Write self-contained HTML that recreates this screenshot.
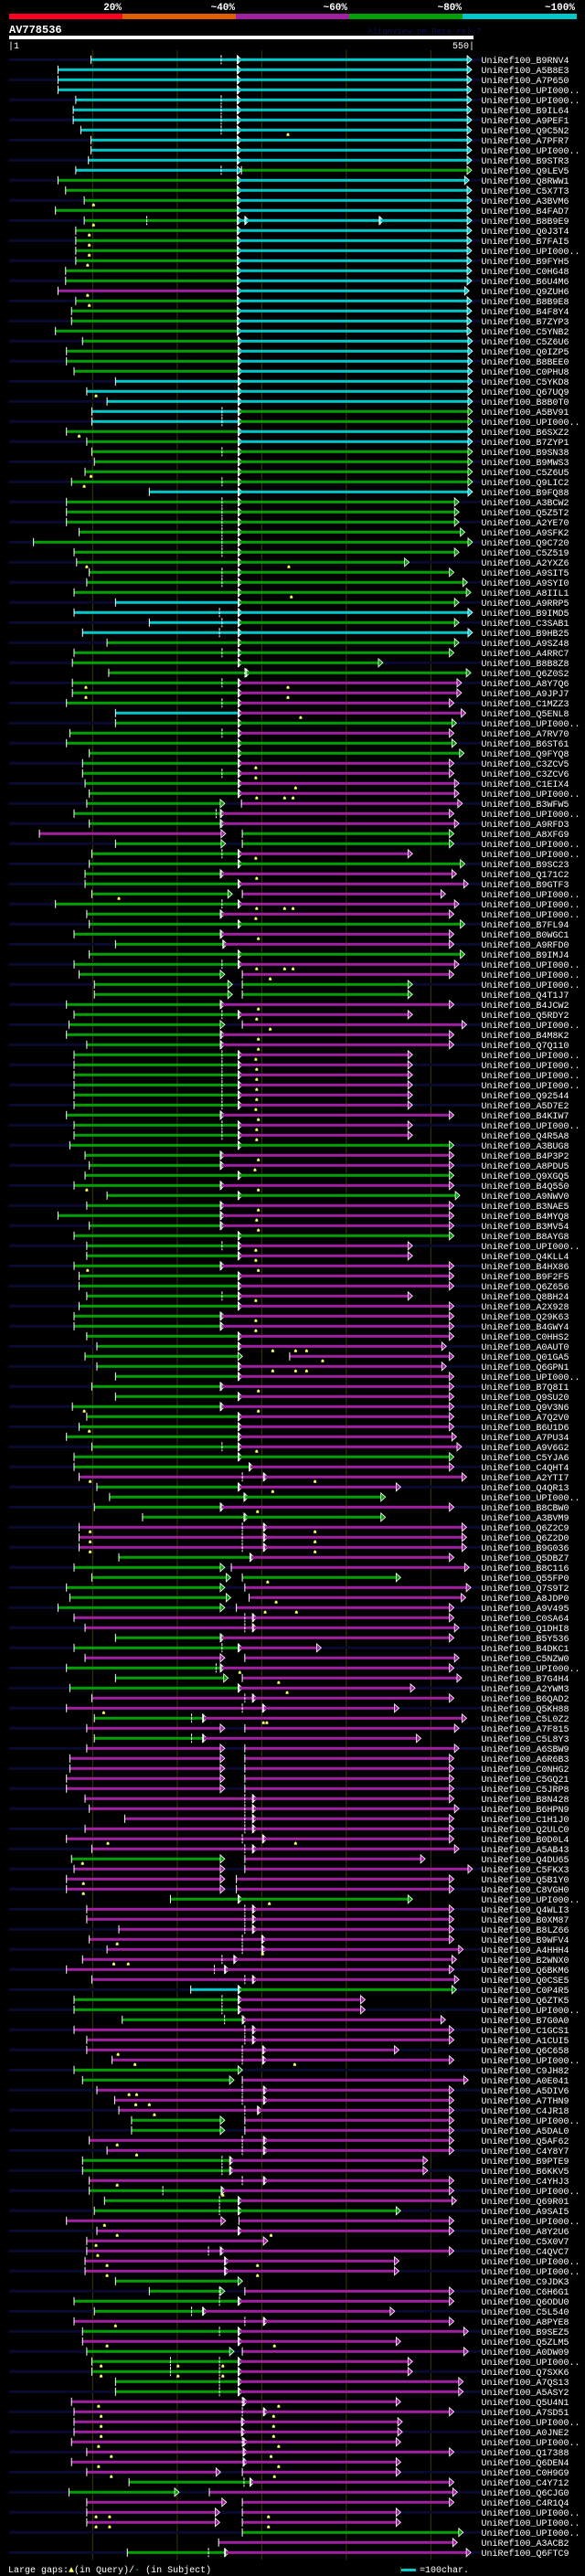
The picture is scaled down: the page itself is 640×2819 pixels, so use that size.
<!DOCTYPE html>
<html><head><meta charset="utf-8">
<style>
html,body{margin:0;padding:0;background:#000;}
svg{display:block;}
text{font-family:"Liberation Mono",monospace;}
</style></head>
<body>
<svg id="chart" width="640" height="2819" viewBox="0 0 640 2819" xmlns="http://www.w3.org/2000/svg">
<rect x="0" y="0" width="640" height="2819" fill="#000"/>
<g>
<text x="133" y="11" text-anchor="end" fill="#fff" font-size="11" font-weight="bold">20%</text>
<text x="257" y="11" text-anchor="end" fill="#fff" font-size="11" font-weight="bold">~40%</text>
<text x="380" y="11" text-anchor="end" fill="#fff" font-size="11" font-weight="bold">~60%</text>
<text x="505" y="11" text-anchor="end" fill="#fff" font-size="11" font-weight="bold">~80%</text>
<text x="629" y="11" text-anchor="end" fill="#fff" font-size="11" font-weight="bold">~100%</text>
<rect x="10" y="15" width="124" height="6" fill="#ff0020"/>
<rect x="134" y="15" width="124" height="6" fill="#e06000"/>
<rect x="258" y="15" width="124" height="6" fill="#a020a0"/>
<rect x="382" y="15" width="124" height="6" fill="#00a000"/>
<rect x="506" y="15" width="125" height="6" fill="#00c8c8"/>
</g>
<text x="10" y="36" fill="#fff" font-size="12" font-weight="bold">AV778536</text>
<text x="402" y="37" fill="#101050" font-size="9">AlignView.pm Beta rel.7</text>
<rect x="10" y="39" width="508" height="4" fill="#fff"/>
<text x="9" y="53" fill="#fff" font-size="10">|1</text>
<text x="519" y="53" fill="#fff" font-size="10" text-anchor="end">550|</text>
<g id="grid"></g>
<g id="rows"></g>
<g>
<text x="9" y="2815" fill="#fff" font-size="10">Large gaps:<tspan fill="#ffff60">▲</tspan>(in Query)/<tspan fill="#00c8c8">-</tspan> (in Subject)</text>
<rect x="438" y="2809" width="1" height="7" fill="#444400"/>
<rect x="439" y="2811" width="16" height="3" fill="#00c8c8"/>
<text x="459" y="2815" fill="#fff" font-size="10">=100char.</text>
</g>
</svg>
<script>
const labels = ["B9RNV4","A5B8E3","A7P650","UPI","UPI","B9IL64","A9PEF1","Q9C5N2","A7PFR7","UPI","B9STR3","Q9LEV5","Q8RWW1","C5X7T3","A3BVM6","B4FAD7","B8B9E9","Q0J3T4","B7FAI5","UPI","B9FYH5","C0HG48","B6U4M6","Q9ZUH6","B8B9E8","B4F8Y4","B7ZYP3","C5YNB2",
"C5Z6U6","Q0IZP5","B8BEE0","C0PHU8","C5YKD8","Q67UQ9","B8B0T0","A5BV91","UPI","B6SXZ2","B7ZYP1","B9SN38","B9MWS3","C5Z6U5","Q9LIC2","B9FQ88","A3BCW2","Q5Z5T2","A2YE70","A9SFK2","Q9C720","C5Z519","A2YXZ6","A9SIT5",
"A9SYI0","A8IIL1","A9RRP5","B9IMD5","C3SAB1","B9HB25","A9SZ48","A4RRC7","B8B8Z8","Q6Z0S2","A8Y7Q6","A9JPJ7","C1MZZ3","Q5ENL8","UPI","A7RV70","B6ST61","Q9FYQ8","C3ZCV5","C3ZCV6","C1EIX4","UPI","B3WFW5","UPI",
"A9RFD3","A8XFG9","UPI","UPI","B9SC23","Q171C2","B9GTF3","UPI","UPI","UPI","B7FL94","B0WGC1","A9RFD0","B9IMJ4","UPI","UPI","UPI","Q4T1J7","B4JCW2","Q5RDY2","UPI","B4M8K2","Q7Q110","UPI",
"UPI","UPI","UPI","Q92544","A5D7E2","B4KIW7","UPI","Q4R5A8","A3BUG8","B4P3P2","A8PDU5","Q9XGQ5","B4Q550","A9NWV0","B3NAE5","B4MYQ8","B3MV54","B8AYG8","UPI","Q4KLL4","B4HX86","B9F2F5","Q6Z656","Q8BH24",
"A2X928","Q29K63","B4GWY4","C0HHS2","A0AUT0","Q01GA5","Q6GPN1","UPI","B7Q8I1","Q9SU20","Q9V3N6","A7Q2V0","B6U1D6","A7PU34","A9V6G2","C5YJA6","C4QHT4","A2YTI7","Q4QR13","UPI","B8CBW0","A3BVM9","Q6Z2C9","Q6Z2D0",
"B9G036","Q5DBZ7","B8C116","Q55FP0","Q7S9T2","A8JDP0","A9V495","C0SA64","Q1DHI8","B5Y536","B4DKC1","C5NZW0","UPI","B7G4H4","A2YWM3","B6QAD2","Q5KH88","C5L0Z2","A7F815","C5L8Y3","A6SBW9","A6R6B3","C0NHG2","C5GQ21",
"C5JRP8","B8N428","B6HPN9","C1H1J0","Q2ULC0","B0D0L4","A5AB43","Q4DU65","C5FKX3","Q5B1Y0","C8VGH0","UPI","Q4WLI3","B0XM87","B8LZ66","B9WFV4","A4HHH4","B2WNX0","Q6BKM6","Q0CSE5","C0P4R5","Q6ZTK5","UPI","B7G0A0",
"C1GCS1","A1CUI5","Q6C658","UPI","C9JH82","A0E041","A5DIV6","A7THN9","C4JR18","UPI","A5DAL0","Q5AF62","C4Y8Y7","B9PTE9","B6KKV5","C4YHJ3","UPI","Q69R01","A9SAI5","UPI","A8Y2U6","C5X0V7","C4QVC7","UPI",
"UPI","C9JDK3","C6H6G1","Q6ODU0","C5L540","A8PYE8","B9SEZ5","Q5ZLM5","A0DW09","UPI","Q7SXK6","A7QS13","A5ASY2","Q5U4N1","A7SD51","UPI","A0JNE2","UPI","Q17388","Q6DEN4",
"C0H9G9","C4Y712","Q6CJG0","C4R1Q4","UPI","UPI","UPI","A3ACB2","Q6FTC9"];

const segments = ["c98-272 c272-544","c59-272 c272-544","c59-272 c272-544","c59-272 c272-544","c80-272 c272-544","c77-272 c272-544","c77-272 c272-544","c86-272 c272-544","c98-272 c272-544","c98-272 c272-544","c95-272 c272-544","c80-272 g276-544","g59-272 c272-541","g68-272 c272-544","g90-272 c272-544","g56-272 c272-544","g90-272 c272-281 c281-440 c440-544","g80-272 c272-544","g80-272 c272-544","g80-272 c272-544","g80-272 c272-544","g68-272 c272-544","g68-272 c272-544","m59-272 c272-541","g80-272 c272-544","g75-272 c272-544","g75-272 c272-544","g56-272 c272-544",
"g88-273 c273-545","g69-273 c273-545","g69-273 c273-545","g78-273 c273-545","c127-273 c273-545","c93-273 c273-545","c117-273 c273-545","c99-273 g273-545","c99-273 g273-545","g69-273 c273-545","g93-273 c273-545","g99-273 g273-545","g102-273 g273-545","g91-273 g273-545","g75-273 g273-545","c167-273 c273-545","g69-273 g273-529","g69-273 g273-529","g69-273 g273-529","g84-273 g273-536","g30-273 g273-545","g78-273 g273-529","g81-273 g273-470","g96-273 g273-523",
"g93-273 g273-539","g78-273 g273-543","c127-273 g273-529","c78-273 c273-545","c167-273 g273-529","c88-273 c273-545","g117-273 g273-529","g78-273 g273-523","g76-273 g273-439","g119-282 g282-543","g76-273 m273-532","g76-273 m273-532","g69-273 m273-523","c127-273 m273-537","g127-273 g273-526","g73-273 m273-523","g69-273 g273-526","g96-273 g273-535","g88-273 m273-523","g88-273 m273-523","g91-273 m273-529","g96-273 m273-529","g93-252 m276-533","g78-252 m252-523",
"g96-252 m252-529","m37-253 g277-523","g127-253 g277-523","g99-273 m273-474","g96-273 g273-536","g91-252 m252-526","g91-273 m273-540","g99-261 m277-513","g56-273 m273-529","g93-252 m252-523","g96-273 g273-536","g78-252 m252-523","g127-255 m255-523","g96-273 g273-536","g78-273 m273-529","g84-252 m277-523","g102-261 g277-474","g102-261 g277-474","g69-252 m252-523","g78-273 m273-474","g72-252 m277-538","g69-252 m252-523","g93-252 m252-523","g78-273 m273-474",
"g78-273 m273-474","g78-273 m273-474","g78-273 m273-474","g78-273 m273-474","g78-273 m273-474","g69-252 m252-523","g78-273 m273-474","g78-273 m273-474","g73-273 g273-523","g91-252 m252-523","g96-252 m252-523","g91-273 g273-523","g78-252 m252-523","g117-273 g273-530","g93-252 m252-523","g59-252 m252-523","g96-252 m252-523","g78-273 g273-523","g93-273 m273-474","g93-273 m273-474","g78-252 m252-523","g84-273 m273-523","g84-273 m273-523","g93-273 m273-474",
"g84-273 m273-523","g78-252 m252-523","g78-252 m252-523","g93-273 m273-523","g105-273 m273-514","g91-273 m333-523","g105-273 m273-514","g127-273 m273-523","g99-252 m252-523","g127-273 m273-523","g76-252 m252-523","g93-273 m273-523","g84-273 m273-523","g69-273 m273-526","g99-273 m273-532","g78-273 g273-523","g78-286 m286-523","m84-303 m303-538","g105-273 m273-460","g120-280 g280-442","g102-252 m252-523","g159-280 g280-442","m84-303 m303-538","m84-303 m303-538",
"m84-303 m303-538","g131-287 m287-523","g78-252 m264-541","g99-259 g277-460","g69-252 m280-543","g73-259 m285-537","g59-252 m270-523","m78-290 m290-523","m91-290 m290-529","g127-252 m252-523","g78-273 m273-366","m91-252 m280-529","g69-252 m252-523","g127-256 m277-532","g73-273 m273-477","m99-290 m290-523","m69-302 m302-458","g102-231 m231-538","m93-252 m280-529","g102-231 m231-484","m93-252 m280-529","m73-252 m280-523","m73-252 m280-523","m69-252 m280-523",
"m69-252 m280-523","m91-290 m290-523","m96-290 m290-529","m138-290 m290-523","m91-290 m290-523","m69-302 m302-523","m99-290 m290-529","g75-252 m280-489","m78-252 m280-545","m69-252 m270-523","m69-252 m270-523","g192-273 g273-474","m93-290 m290-523","m93-290 m290-523","m131-290 m290-523","m96-301 m301-523","m117-301 m301-534","m88-268 m268-526","m69-257 m257-523","m99-290 m290-529","c216-273 g273-526","g78-273 m273-418","g78-273 m273-418","g135-278 m278-513",
"m78-290 m290-523","m93-290 m290-523","m93-302 m302-458","m123-302 m302-523","g78-273","g88-263 m277-540","m105-303 m303-523","m126-303 m303-523","m131-296 m296-523","g146-252 m280-523","g146-252 m280-523","m96-303 m303-523","m117-303 m303-523","g88-263 m263-492","g88-263 m263-492","m96-303 m303-523","g96-253 m253-523","g114-273 m273-526","g102-273 g273-460","m69-253 m273-523","m105-273 m273-523","m93-303","m93-252 m252-523","m91-257 m257-458",
"m91-257 m257-458","g127-273","g167-252 m280-523","g78-273 m273-523","g102-231 m231-453","m78-303 m303-523","g88-273 m273-540","m88-273 m273-460","g93-263 m277-540","g99-273 m273-474","g99-273 m273-474","g127-273 m273-534","g127-273 m273-534","m75-279 m279-460","m78-303 m303-523","m78-277 m277-462","m78-277 m277-462","m75-279 m279-460","m93-279 m279-523","m75-279 m279-460",
"m93-247 m277-460","g143-287 m287-523","g72-198 m238-527","m93-254 m277-523","m93-246 m277-460","m93-246 m277-460","g277-534","m249-527","g141-257 m257-543"];

const dashTicks = ["252","","","","252","252","252","252","","","","252","","","","","164","","","","","","","","","","","",
"","","","","","","","253","253","","","253","","","253","","253","253","253","253","253","253","","253",
"253","","","250","253","250","","253","","280","253","","253","","","253","","","","253","","","","246",
"","","","253","","","","","253","","","","","","253","","","","","253","","","","253",
"253","253","253","253","253","","253","253","","","","","","","","","","","253","","","","","253",
"","","","","","","","","","","","","","","253","","","277","","","","","277","277",
"277","","","","","","","280","280","","253","","246","","","280","277","217","","217","","","","",
"","280","280","280","280","277","280","","","","","","280","280","280","277","277","253","244","280","","253","253","256",
"280","280","277","277","","","277","277","280","","","277","277","253","253","277","183","250","250","","","","237","",
"","","250","250","217","280","250","","","192 250","192 250","250","250","277","277","","","277","","",
"","279","","","","","","","237"];

const queryGaps = ["","","","","","","","331","","","","","","","101","","101","96","96","96","94","","","94","96","","","",
"","","","","","104","","","","84","","","","98","90","","","","","","","","93 332","",
"","335","","","","","","","","","92 331","92 331","","346","","","","","293","293","340","294 327 337","","",
"","","","293","","294","","131","294 327 337","293","","296","","","294 327 337","310","","","296","294","310","296","296","293",
"294","294","294","294","293","296","294","294","","296","292","","93 296","","296","294","296","","293","293","94 296","","","293",
"","293","293","","313 340 353","372","313 340 353","","296","","90 296","","96","","294","","","97 363","313","","295","","97 363","97 363",
"97 363","","","307","","317","304 341","","","","","","274","320","330","","113","302 306","","","","","","",
"","","","","","118 340","","88","","89","89","309","","","","129","301","125 142","","","","","","",
"","","130","150 339","","","143 152","151 167","173","","","129","152","","","129","254","","","114","129 311","104","106","117 295",
"117 295","","","","","127","","117 315","","110 201 254","110 201 254","","","107 320","110 314","110 314","110 314","107 320","122 311","107 320",
"122 315","","","","104 120 308","104 120 308","","",""];

const NS = "http://www.w3.org/2000/svg";
const X0 = 9.8, X1 = 517.6, MAXC = 550;
function xs(c){ return X0 + (c - 1) * (X1 - X0) / (MAXC - 1); }
function ys(i){ return 65.3 + i * 11; }
const COLORS = {c:"#00c8c8", g:"#00a000", m:"#a020a0"};
function mk(tag, attrs, parent){
  const el = document.createElementNS(NS, tag);
  for (const k in attrs) el.setAttribute(k, attrs[k]);
  parent.appendChild(el);
  return el;
}
const grid = document.getElementById("grid");
const rowsG = document.getElementById("rows");
const nRows = labels.length;
[100,200,300,400,500].forEach(function(c){
  const l = mk("line", {x1:xs(c), x2:xs(c), y1:55, y2:ys(nRows-1)+8, stroke:"#3a3a00", "stroke-width":1}, grid);
  
  
});
for (let i = 0; i < nRows; i++){
  const y = ys(i);
  const g = mk("g", {}, rowsG);
  
  
  if (i % 2 === 0){
    const bg = mk("rect", {x:X0, y:y-1.5, width:527-X0, height:3, fill:"#0a0a30"}, g);
    
    
  }
  const segs = segments[i].split(" ").filter(Boolean);
  segs.forEach(function(s){
    const col = COLORS[s[0]];
    const p = s.slice(1).split("-").map(Number);
    const a = xs(p[0]), b = xs(p[1]);
    const r = mk("rect", {x:a, y:y-1.5, width:Math.max(0,b-a), height:3, fill:col}, g);
    
    
    const t = mk("line", {x1:a, x2:a, y1:y-4.5, y2:y+4.5, stroke:"#fff", "stroke-width":1}, g);
    
    
    const ar = mk("polygon", {points:(b-1)+","+(y-4.5)+" "+(b+4)+","+y+" "+(b-1)+","+(y+4.5), fill:col, stroke:"#fff", "stroke-width":0.8}, g);
    
    
  });
  dashTicks[i].split(" ").filter(Boolean).forEach(function(v){
    const x = xs(Number(v));
    const d = mk("line", {x1:x, x2:x, y1:y-5, y2:y+5, stroke:"#fff", "stroke-width":1, "stroke-dasharray":"3,1"}, g);
    
    
  });
  queryGaps[i].split(" ").filter(Boolean).forEach(function(v){
    const x = xs(Number(v));
    const q = mk("polygon", {points:(x-1.5)+","+(y+6.5)+" "+(x-1.5)+","+(y+4.5)+" "+x+","+(y+3)+" "+(x+1.5)+","+(y+4.5)+" "+(x+1.5)+","+(y+6.5), fill:"#ffff60"}, g);
    
    
  });
  const lab = mk("text", {x:526.5, y:y+3.5, fill:"#fff", "font-size":10}, g);
  lab.textContent = labels[i] === "UPI" ? "UniRef100_UPI000.." : "UniRef100_" + labels[i];
  
  
}
</script>
</body></html>
